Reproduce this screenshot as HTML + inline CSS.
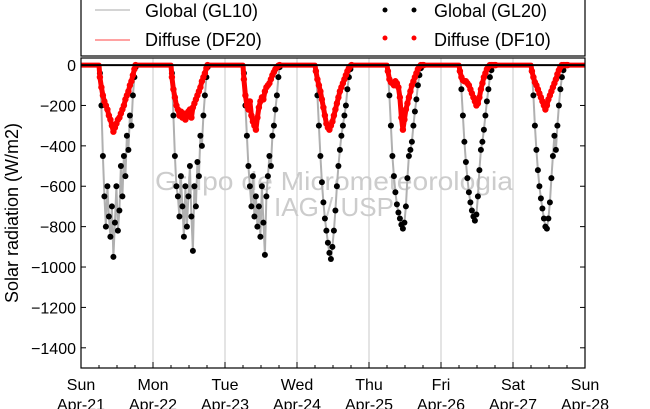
<!DOCTYPE html>
<html><head><meta charset="utf-8"><style>
body{margin:0;background:#fff;}
svg{display:block;font-family:"Liberation Sans",sans-serif;}
</style></head><body>
<svg id="chart" width="650" height="409" viewBox="0 0 650 409">
<g id="grid"></g>
<text x="334" y="190" font-size="26" fill="#cccccc" text-anchor="middle" textLength="358" lengthAdjust="spacingAndGlyphs">Grupo de Micrometeorologia</text>
<text x="334" y="216" font-size="26" fill="#cccccc" text-anchor="middle">IAG / USP</text>
<g id="series"></g>
<g id="axes"></g>
<g>
<rect x="81" y="-5" width="504" height="61" fill="#fff" stroke="#000" stroke-width="1.2"/>
<line x1="95" y1="10" x2="130" y2="10" stroke="#aaa" stroke-width="1"/>
<text x="145" y="17" font-size="18">Global (GL10)</text>
<line x1="95" y1="40" x2="130" y2="40" stroke="#f44" stroke-width="1"/>
<text x="145" y="46" font-size="18">Diffuse (DF20)</text>
<circle cx="385" cy="10" r="2.5" fill="#000"/>
<circle cx="414" cy="10" r="2.5" fill="#000"/>
<text x="434" y="17" font-size="18">Global (GL20)</text>
<circle cx="385" cy="38" r="2.5" fill="#f00"/>
<circle cx="414" cy="38" r="2.5" fill="#f00"/>
<text x="434" y="46" font-size="18">Diffuse (DF10)</text>
</g>
<text transform="translate(18,213) rotate(-90)" font-size="18" text-anchor="middle">Solar radiation (W/m2)</text>
</svg>
<script>
const dayNames=["Sun","Mon","Tue","Wed","Thu","Fri","Sat","Sun"];
const dateLabels=["Apr-21","Apr-22","Apr-23","Apr-24","Apr-25","Apr-26","Apr-27","Apr-28"];
const yTicks=[0,-200,-400,-600,-800,-1000,-1200,-1400];
const hours=[6.3,6.8,7.3,7.8,8.3,8.8,9.3,9.8,10.3,10.8,11.3,11.8,12.3,12.8,13.3,13.8,14.3,14.8,15.3,15.8,16.3,16.8,17.3,17.8,18.2];
const globalDay0=[-40,-200,-450,-650,-800,-600,-750,-850,-700,-950,-780,-600,-820,-720,-500,-650,-450,-550,-350,-420,-250,-300,-150,-60,-10];
const globalDay1=[-40,-250,-450,-600,-650,-750,-550,-700,-850,-600,-800,-650,-500,-750,-920,-600,-700,-480,-550,-350,-400,-250,-150,-60,-10];
const globalDay2=[-40,-200,-350,-500,-600,-700,-550,-750,-650,-800,-700,-850,-600,-780,-940,-650,-550,-450,-500,-350,-300,-220,-150,-60,-10];
const globalDay3=[-30,-150,-300,-450,-580,-680,-760,-820,-880,-930,-960,-900,-820,-720,-600,-500,-420,-350,-300,-250,-200,-120,-60,-20,0];
const globalDay4=[-30,-150,-300,-450,-550,-630,-690,-730,-760,-790,-810,-780,-700,-560,-450,-420,-380,-300,-230,-170,-100,-50,-15,0,0];
const globalDay5=[-30,-120,-250,-380,-480,-560,-630,-680,-720,-750,-770,-740,-650,-520,-420,-380,-320,-250,-180,-120,-60,-25,0,0,0];
const globalDay6=[-30,-150,-300,-420,-520,-600,-660,-710,-760,-800,-810,-760,-680,-560,-450,-350,-420,-300,-200,-120,-60,-25,0,0,0];
const diffuseDay0=[-60,-110,-150,-180,-200,-220,-250,-270,-300,-330,-310,-290,-270,-260,-240,-220,-200,-170,-150,-130,-100,-80,-50,-20,0];
const diffuseDay1=[-60,-120,-160,-200,-220,-250,-230,-260,-240,-270,-250,-230,-220,-260,-210,-190,-170,-150,-130,-110,-80,-60,-40,-15,0];
const diffuseDay2=[-70,-150,-200,-220,-180,-250,-280,-300,-320,-260,-210,-180,-160,-170,-130,-110,-100,-90,-70,-50,-35,-20,-10,-3,0];
const diffuseDay3=[-30,-70,-100,-130,-170,-210,-250,-290,-310,-320,-300,-280,-250,-220,-190,-160,-130,-110,-90,-70,-50,-30,-15,-5,0];
const diffuseDay4=[-30,-70,-85,-90,-100,-80,-90,-110,-160,-260,-320,-270,-220,-190,-160,-130,-100,-80,-60,-40,-20,-8,0,0,0];
const diffuseDay5=[-30,-60,-75,-80,-80,-90,-100,-120,-140,-160,-180,-200,-190,-160,-120,-90,-60,-40,-20,-8,0,0,0,0,0];
const diffuseDay6=[-30,-60,-85,-100,-120,-140,-160,-180,-200,-220,-200,-170,-150,-130,-110,-90,-70,-45,-25,-10,0,0,0,0,0];
const globalSeries=[globalDay0,globalDay1,globalDay2,globalDay3,globalDay4,globalDay5,globalDay6];
const diffuseSeries=[diffuseDay0,diffuseDay1,diffuseDay2,diffuseDay3,diffuseDay4,diffuseDay5,diffuseDay6];

const NS="http://www.w3.org/2000/svg";
const X0=81,X1=585,Y0=58,Y1=368,VMAX=35,VMIN=-1500,NDAYS=7;
const xs=t=>X0+(X1-X0)*t/NDAYS;
const ys=v=>Y0+(VMAX-v)/(VMAX-VMIN)*(Y1-Y0);
function mk(tag,attrs,parent){const e=document.createElementNS(NS,tag);for(const k in attrs)e.setAttribute(k,attrs[k]);parent.appendChild(e);return e;}
const grid=document.getElementById('grid'),axes=document.getElementById('axes'),series=document.getElementById('series');

for(let d=1;d<NDAYS;d++){
 const l=mk('line',{x1:xs(d),x2:xs(d),y1:Y0,y2:Y1,stroke:'#c8c8c8','stroke-width':1},grid);
 
 
}
for(let d=0;d<NDAYS;d++){
 const g=globalSeries[d],df=diffuseSeries[d];
 let gp=[[d,0],[d+6/24,0]],dp=[[d,0],[d+6/24,0]];
 hours.forEach((h,i)=>{gp.push([d+h/24,g[i]]);dp.push([d+h/24,df[i]]);});
 gp.push([d+18.6/24,0],[d+1,0]);dp.push([d+18.6/24,0],[d+1,0]);
 const gl=mk('polyline',{points:gp.map(p=>xs(p[0])+','+ys(p[1])).join(' '),fill:'none',stroke:'#b0b0b0','stroke-width':2},series);
 
 
 hours.forEach((h,i)=>{
  const c=mk('circle',{cx:xs(d+h/24),cy:ys(g[i]),r:3,fill:'#000'},series);
  
  
 });
 const dl=mk('polyline',{points:dp.map(p=>xs(p[0])+','+ys(p[1])).join(' '),fill:'none',stroke:'#f00','stroke-width':5,'stroke-linejoin':'round'},series);
 
 
 hours.forEach((h,i)=>{
  const c=mk('circle',{cx:xs(d+h/24),cy:ys(df[i]),r:3.2,fill:'#f00'},series);
  
  
 });
}
const zl=mk('line',{x1:X0,x2:X1,y1:ys(0),y2:ys(0),stroke:'#000','stroke-width':2},series);


const fr=mk('rect',{x:X0,y:Y0,width:X1-X0,height:Y1-Y0,fill:'none',stroke:'#000','stroke-width':1.2},axes);


yTicks.forEach(v=>{
 const y=ys(v);
 mk('line',{x1:X0,x2:X0+5,y1:y,y2:y,stroke:'#000'},axes);
 mk('line',{x1:X1,x2:X1-5,y1:y,y2:y,stroke:'#000'},axes);
 const t=mk('text',{x:X0-5,y:y+6,'font-size':16,'text-anchor':'end'},axes);
 t.textContent=v===0?'0':'\u2212'+Math.abs(v);
 
 
});
for(let q=0;q<=NDAYS*4;q++){
 const x=xs(q/4),len=q%4===0?6:3;
 mk('line',{x1:x,x2:x,y1:Y1,y2:Y1-len,stroke:'#000'},axes);
}
dayNames.forEach((n,i)=>{
 const t=mk('text',{x:xs(i),y:390,'font-size':16,'text-anchor':'middle'},axes);
 t.textContent=n;
 
 
 const t2=mk('text',{x:xs(i),y:410,'font-size':16,'text-anchor':'middle'},axes);
 t2.textContent=dateLabels[i];
 
 
});
</script>
</body></html>
